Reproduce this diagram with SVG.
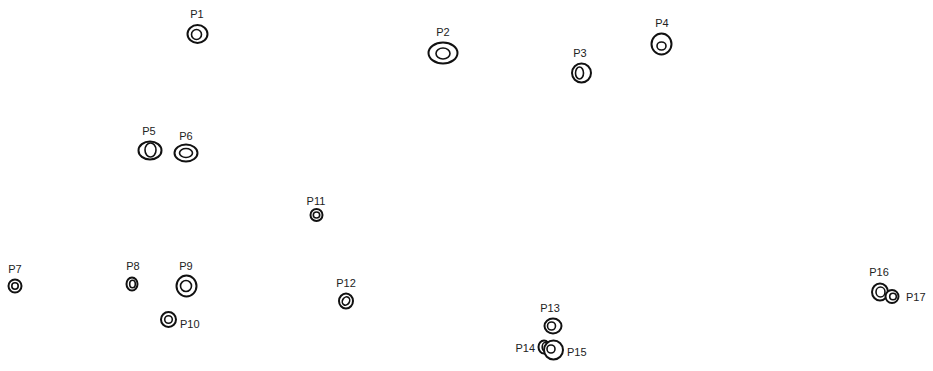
<svg xmlns="http://www.w3.org/2000/svg" width="933" height="371" viewBox="0 0 933 371">
<style>
.o{fill:#fff;stroke:#111;stroke-width:2}
.i{fill:none;stroke:#111;stroke-width:1.6}
text{font-family:"Liberation Sans",Arial,sans-serif;font-size:11px;fill:#222;text-anchor:middle}
.l{text-anchor:start}
.r{text-anchor:end}
</style>
<rect width="933" height="371" fill="#fff"/>
<g id="P1"><ellipse class="o" cx="197.5" cy="34" rx="10" ry="9"/><ellipse class="i" cx="196.5" cy="34.5" rx="5" ry="5"/><text x="197" y="18">P1</text></g>
<g id="P2"><ellipse class="o" cx="443" cy="53" rx="14.5" ry="10.5"/><ellipse class="i" cx="443" cy="53.5" rx="7" ry="5.5"/><text x="443" y="36">P2</text></g>
<g id="P3"><ellipse class="o" cx="581.5" cy="73" rx="9.5" ry="9.5"/><ellipse class="i" cx="579.5" cy="73" rx="4" ry="6"/><text x="580" y="57">P3</text></g>
<g id="P4"><ellipse class="o" cx="661.5" cy="44" rx="10" ry="10.5"/><ellipse class="i" cx="661.5" cy="46" rx="4.5" ry="4"/><text x="662" y="27">P4</text></g>
<g id="P5"><ellipse class="o" cx="150" cy="150.5" rx="11.5" ry="9"/><ellipse class="i" cx="150.5" cy="150" rx="5.5" ry="7"/><text x="149" y="135">P5</text></g>
<g id="P6"><ellipse class="o" cx="186" cy="153" rx="11.5" ry="8.5"/><ellipse class="i" cx="186" cy="153" rx="6.5" ry="4.5"/><text x="186" y="140">P6</text></g>
<g id="P7"><ellipse class="o" cx="15" cy="286" rx="6.5" ry="6.5"/><ellipse class="i" cx="15" cy="286" rx="3.2" ry="3.2"/><text x="15" y="273">P7</text></g>
<g id="P8"><ellipse class="o" cx="132" cy="284" rx="5.5" ry="6.5"/><ellipse class="i" cx="132.5" cy="284" rx="2.8" ry="3.8"/><text x="133" y="270">P8</text></g>
<g id="P9"><ellipse class="o" cx="186.5" cy="286" rx="10" ry="10.5"/><ellipse class="i" cx="186" cy="286" rx="5.5" ry="5.5"/><text x="186" y="270">P9</text></g>
<g id="P10"><ellipse class="o" cx="168.5" cy="319.5" rx="7.5" ry="7.5"/><ellipse class="i" cx="168.5" cy="319.5" rx="3.8" ry="3.8"/><text class="l" x="180" y="328">P10</text></g>
<g id="P11"><ellipse class="o" cx="316.5" cy="215" rx="6" ry="6"/><ellipse class="i" cx="316.5" cy="215" rx="3.2" ry="3"/><text x="316" y="205">P11</text></g>
<g id="P12"><ellipse class="o" cx="346" cy="301" rx="7" ry="7.5"/><ellipse class="i" cx="346" cy="301" rx="3.5" ry="4.3" transform="rotate(30 346 301)"/><text x="346" y="287">P12</text></g>
<g id="P13"><ellipse class="o" cx="553" cy="326" rx="8.5" ry="7.5"/><ellipse class="i" cx="551.5" cy="326" rx="4" ry="4"/><text x="550" y="312">P13</text></g>
<g id="P14"><ellipse class="o" cx="544" cy="347" rx="5.5" ry="6.5"/><ellipse class="i" cx="545" cy="347" rx="2.8" ry="4.5"/><text class="r" x="535" y="352">P14</text></g>
<g id="P15"><ellipse class="o" cx="553.5" cy="350" rx="9.5" ry="9.5"/><ellipse class="i" cx="551" cy="349" rx="4" ry="4"/><text class="l" x="567" y="356">P15</text></g>
<g id="P16"><ellipse class="o" cx="880" cy="292" rx="8" ry="8.5"/><ellipse class="i" cx="880.5" cy="292" rx="4.5" ry="5"/><text x="879" y="276">P16</text></g>
<g id="P17"><ellipse class="o" cx="892" cy="296.5" rx="6.5" ry="6.5"/><ellipse class="i" cx="893" cy="296.5" rx="3.3" ry="3.3"/><text class="l" x="906" y="301">P17</text></g>
</svg>
